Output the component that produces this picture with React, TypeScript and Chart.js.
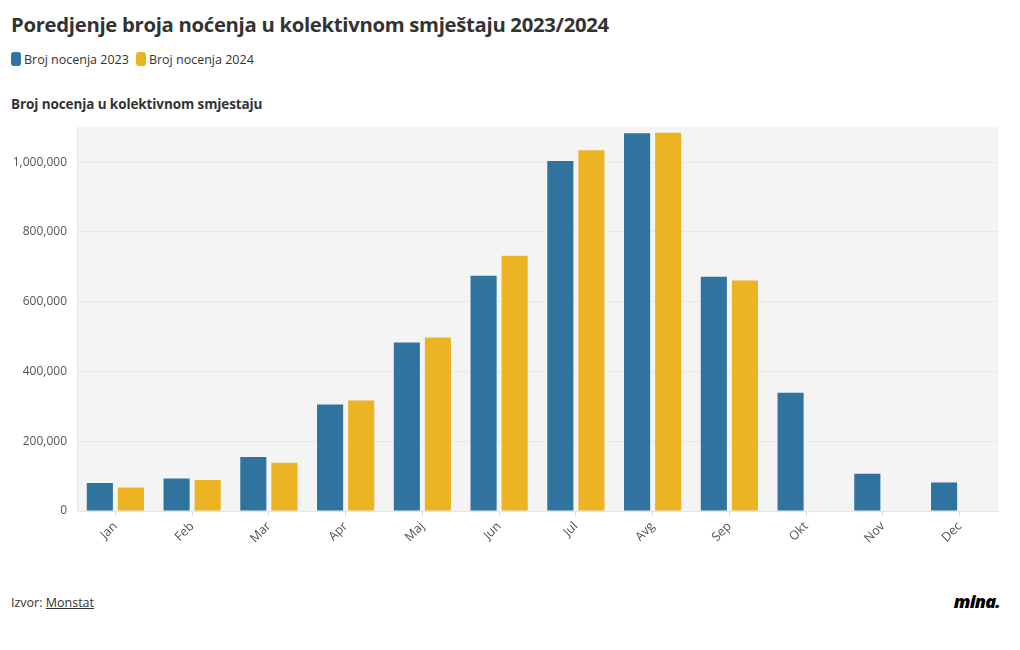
import React, { useEffect, useRef } from "react";
import { Chart, registerables } from "chart.js";

Chart.register(...registerables);

const months = ["Jan", "Feb", "Mar", "Apr", "Maj", "Jun", "Jul", "Avg", "Sep", "Okt", "Nov", "Dec"];
const nights2023 = [80000, 93500, 154500, 305500, 483000, 674000, 1003000, 1083000, 671500, 339000, 106500, 82000];
const nights2024 = [67500, 88500, 138000, 317000, 497500, 731500, 1034000, 1084000, 660500, null, null, null];
const yTicks = [0, 200000, 400000, 600000, 800000, 1000000];

const BLUE = "#31739f";
const YELLOW = "#ecb322";
const FONT = "'Open Sans', 'Noto Sans', sans-serif";

const bgPlugin = {
  id: "plotBg",
  beforeDraw(chart: any) {
    const { ctx, chartArea } = chart;
    if (!chartArea) return;
    ctx.save();
    ctx.fillStyle = "#f4f4f4";
    ctx.fillRect(chartArea.left, chartArea.top, chartArea.right - chartArea.left, chartArea.bottom - chartArea.top);
    ctx.restore();
  },
};

export default function App() {
  const ref = useRef<HTMLCanvasElement | null>(null);

  useEffect(() => {
    document.body.style.margin = "0";
    const chart = new Chart(ref.current as HTMLCanvasElement, {
      type: "bar",
      data: {
        labels: months,
        datasets: [
          { label: "Broj nocenja 2023", data: nights2023, backgroundColor: BLUE, borderWidth: 0 },
          { label: "Broj nocenja 2024", data: nights2024 as any, backgroundColor: YELLOW, borderWidth: 0 },
        ],
      },
      options: {
        animation: false,
        responsive: false,
        maintainAspectRatio: false,
        categoryPercentage: 0.81,
        barPercentage: 0.84,
        layout: { padding: { top: 17, right: 22, left: 0, bottom: 0 } },
        plugins: { legend: { display: false }, tooltip: { enabled: false } },
        scales: {
          x: {
            grid: { display: true, offset: false, drawOnChartArea: false, color: "#dcdcdc", tickLength: 5 },
            border: { display: true, color: "#e4e4e4" },
            ticks: {
              color: "#555",
              font: { family: FONT, size: 12.5 },
              maxRotation: 45,
              minRotation: 45,
              padding: 3,
            },
            afterFit(scale: any) {
              scale.height = 39;
            },
          },
          y: {
            min: 0,
            max: 1100000,
            afterBuildTicks(scale: any) {
              scale.ticks = yTicks.map((v) => ({ value: v }));
            },
            grid: { color: "#e9e9e9", drawTicks: false },
            border: { display: true, color: "#e4e4e4" },
            ticks: {
              color: "#555",
              font: { family: FONT, size: 12 },
              padding: 10,
              callback: (v: any) => Number(v).toLocaleString("en-US"),
            },
            afterFit(scale: any) {
              scale.width = 77;
            },
          },
        },
      },
      plugins: [bgPlugin],
    });
    return () => chart.destroy();
  }, []);

  const swatch = (c: string) => (
    <span style={{ display: "inline-block", width: 10, height: 14, borderRadius: 3, background: c, marginRight: 3, verticalAlign: "-2px" }} />
  );

  return (
    <div style={{ position: "relative", width: 1020, height: 650, background: "#fff", fontFamily: FONT, color: "#333" }}>
      <div style={{ position: "absolute", left: 11, top: 10, fontSize: 20.3, fontWeight: 700, letterSpacing: -0.3, whiteSpace: "nowrap" }}>
        Poredjenje broja noćenja u kolektivnom smještaju 2023/2024
      </div>
      <div style={{ position: "absolute", left: 11, top: 51, fontSize: 12.5, whiteSpace: "nowrap" }}>
        {swatch(BLUE)}Broj nocenja 2023
        <span style={{ marginLeft: 7 }}>{swatch(YELLOW)}Broj nocenja 2024</span>
      </div>
      <div style={{ position: "absolute", left: 11, top: 95, fontSize: 13.5, fontWeight: 700, letterSpacing: -0.1, whiteSpace: "nowrap" }}>
        Broj nocenja u kolektivnom smjestaju
      </div>
      <div style={{ position: "absolute", left: 0, top: 110, width: 1020, height: 440 }}>
        <canvas ref={ref} width={1020} height={440} style={{ width: 1020, height: 440 }} />
      </div>
      <div style={{ position: "absolute", left: 11, top: 594, fontSize: 12.5, whiteSpace: "nowrap" }}>
        Izvor: <span style={{ textDecoration: "underline" }}>Monstat</span>
      </div>
      <div style={{ position: "absolute", right: 20, top: 589, fontSize: 18, fontWeight: 900, fontStyle: "italic", color: "#000", letterSpacing: -0.8 }}>
        mina.
      </div>
    </div>
  );
}
